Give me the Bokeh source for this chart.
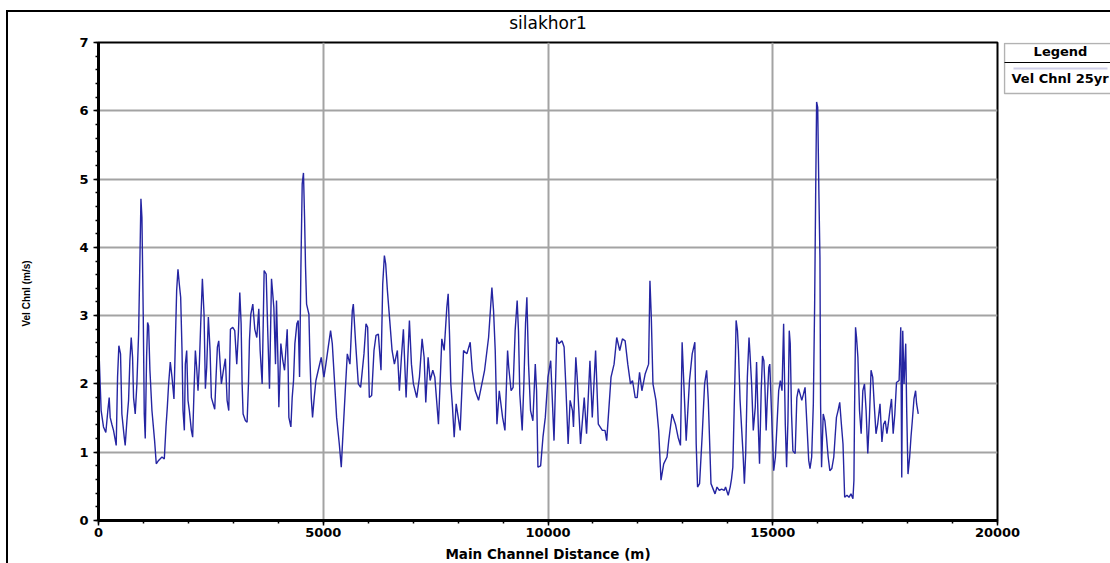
import math
from bokeh.plotting import figure
from bokeh.layouts import row, column
from bokeh.models import Range1d, FixedTicker, Label, BoxAnnotation
from bokeh.embed import file_html
from bokeh.resources import INLINE

title_text = "silakhor1"
x_label = "Main Channel Distance (m)"
y_label = "Vel Chnl (m/s)"
series_name = "Vel Chnl 25yr"
legend_title = "Legend"
x_ticks = [0, 5000, 10000, 15000, 20000]
y_ticks = [0, 1, 2, 3, 4, 5, 6, 7]

dist = [
    0, 59, 111, 163, 208, 238, 260, 297, 334, 394, 424, 453, 490, 520, 572, 594, 632, 669, 698, 728,
    758, 780, 817, 854, 892, 921, 944, 966, 996, 1018, 1040, 1070, 1092, 1115, 1144, 1189, 1248, 1285, 1337, 1412,
    1464, 1501, 1531, 1560, 1597, 1635, 1679, 1709, 1739, 1768, 1798, 1828, 1858, 1880, 1910, 1932, 1962, 1991, 2021, 2066,
    2095, 2125, 2155, 2184, 2214, 2244, 2274, 2311, 2348, 2378, 2407, 2444, 2482, 2511, 2586, 2615, 2645, 2675, 2734, 2779,
    2823, 2861, 2898, 2935, 2987, 3031, 3076, 3113, 3143, 3173, 3195, 3217, 3269, 3306, 3336, 3358, 3388, 3433, 3477, 3522,
    3566, 3596, 3641, 3685, 3730, 3767, 3804, 3849, 3901, 3938, 3960, 3997, 4012, 4057, 4101, 4139, 4198, 4220, 4235, 4280,
    4309, 4339, 4369, 4413, 4443, 4473, 4503, 4532, 4560, 4584, 4606, 4629, 4681, 4703, 4733, 4762, 4799, 4837, 4889, 4955,
    5015, 5059, 5111, 5163, 5201, 5245, 5297, 5357, 5401, 5431, 5490, 5535, 5594, 5646, 5669, 5721, 5780, 5832, 5906, 5951,
    5988, 6025, 6077, 6129, 6174, 6226, 6285, 6323, 6360, 6389, 6427, 6479, 6531, 6583, 6649, 6694, 6739, 6783, 6843, 6917,
    6962, 7006, 7080, 7140, 7199, 7244, 7281, 7333, 7378, 7437, 7482, 7563, 7638, 7690, 7749, 7779, 7809, 7838, 7875, 7913,
    7957, 8046, 8121, 8195, 8269, 8314, 8381, 8455, 8529, 8589, 8678, 8752, 8789, 8826, 8864, 8916, 8990, 9042, 9101, 9127,
    9179, 9224, 9269, 9314, 9343, 9373, 9426, 9463, 9500, 9530, 9567, 9612, 9664, 9717, 9746, 9776, 9836, 9888, 9940, 10000,
    10060, 10134, 10194, 10239, 10313, 10358, 10395, 10448, 10492, 10545, 10567, 10619, 10649, 10724, 10806, 10858, 10933, 10985, 11059, 11119,
    11209, 11268, 11306, 11402, 11470, 11529, 11596, 11656, 11716, 11775, 11835, 11880, 11940, 11984, 12037, 12089, 12163, 12238, 12268, 12298,
    12335, 12402, 12462, 12514, 12574, 12648, 12686, 12760, 12835, 12894, 12947, 12984, 13074, 13148, 13208, 13267, 13297, 13327, 13372, 13432,
    13484, 13529, 13566, 13626, 13716, 13760, 13811, 13862, 13921, 13950, 14009, 14053, 14083, 14112, 14141, 14171, 14185, 14215, 14237, 14273,
    14310, 14339, 14369, 14398, 14435, 14472, 14494, 14530, 14567, 14611, 14640, 14677, 14706, 14743, 14772, 14802, 14824, 14853, 14875, 14912,
    14934, 14971, 15022, 15059, 15095, 15132, 15169, 15206, 15242, 15279, 15308, 15338, 15367, 15389, 15418, 15448, 15499, 15536, 15573, 15609,
    15646, 15683, 15719, 15756, 15800, 15829, 15866, 15903, 15932, 15954, 15976, 16000, 16028, 16050, 16064, 16086, 16123, 16160, 16196, 16233,
    16270, 16314, 16358, 16387, 16417, 16453, 16490, 16527, 16563, 16600, 16652, 16696, 16740, 16784, 16806, 16820, 16842, 16864, 16894, 16930,
    16967, 17004, 17041, 17077, 17114, 17151, 17187, 17224, 17261, 17297, 17334, 17386, 17429, 17466, 17503, 17540, 17569, 17606, 17642, 17679,
    17716, 17753, 17811, 17848, 17870, 17892, 17921, 17958, 17980, 18009, 18046, 18075, 18105, 18142, 18178, 18200, 18237,
]

vel = [
    2.68, 1.61, 1.37, 1.29, 1.61, 1.80, 1.51, 1.41, 1.32, 1.10, 2.10, 2.56, 2.44, 1.56, 1.22, 1.10, 1.46, 1.76, 2.34, 2.68,
    2.39, 1.80, 1.56, 2.00, 2.73, 3.80, 4.71, 4.44, 2.98, 1.56, 1.20, 2.39, 2.90, 2.85, 2.20, 1.61, 1.17, 0.83, 0.88, 0.93,
    0.90, 1.37, 1.66, 2.00, 2.32, 2.10, 1.78, 2.59, 3.37, 3.68, 3.46, 3.27, 2.49, 1.61, 1.32, 2.29, 2.49, 1.76, 1.61, 1.32,
    1.22, 1.90, 2.49, 2.24, 1.90, 2.29, 2.88, 3.54, 3.02, 1.93, 2.24, 2.98, 2.49, 1.80, 1.63, 2.10, 2.54, 2.63, 2.00, 2.20,
    2.37, 1.76, 1.61, 2.80, 2.83, 2.78, 2.29, 2.76, 3.34, 2.88, 2.00, 1.56, 1.46, 1.44, 2.00, 2.63, 3.02, 3.17, 2.80, 2.68,
    3.10, 2.49, 2.00, 3.66, 3.61, 2.73, 1.93, 3.54, 3.12, 2.29, 3.22, 2.20, 1.66, 2.59, 2.34, 2.20, 2.80, 2.20, 1.51, 1.37,
    1.80, 2.05, 2.59, 2.88, 2.93, 2.10, 3.71, 4.93, 5.09, 4.44, 3.71, 3.17, 3.02, 2.39, 1.80, 1.51, 1.80, 2.05, 2.20, 2.39,
    2.10, 2.29, 2.54, 2.78, 2.59, 2.10, 1.51, 1.12, 0.78, 1.17, 1.90, 2.44, 2.29, 3.07, 3.17, 2.59, 2.00, 1.95, 2.44, 2.88,
    2.83, 1.80, 1.83, 2.49, 2.71, 2.73, 2.20, 3.46, 3.88, 3.76, 3.37, 2.93, 2.49, 2.29, 2.49, 1.90, 2.39, 2.80, 1.80, 2.93,
    2.29, 2.00, 1.80, 2.10, 2.66, 2.39, 1.73, 2.39, 2.05, 2.20, 2.10, 1.41, 2.66, 2.49, 3.12, 3.32, 2.73, 2.00, 1.66, 1.22,
    1.71, 1.32, 2.49, 2.44, 2.61, 2.20, 1.90, 1.76, 2.00, 2.20, 2.68, 3.41, 3.07, 2.49, 1.41, 1.90, 1.51, 1.32, 2.49, 2.24,
    1.90, 1.95, 2.78, 3.22, 2.78, 1.85, 1.32, 2.00, 2.88, 3.27, 2.29, 1.61, 1.46, 2.29, 1.90, 0.78, 0.80, 1.22, 1.51, 2.10,
    2.34, 1.17, 2.68, 2.59, 2.63, 2.54, 2.00, 1.12, 1.76, 1.61, 1.37, 2.39, 2.10, 1.12, 1.80, 1.27, 2.34, 1.51, 2.49, 1.41,
    1.32, 1.32, 1.17, 2.10, 2.29, 2.68, 2.49, 2.66, 2.63, 2.29, 2.00, 2.05, 1.80, 1.80, 2.17, 1.90, 2.15, 2.29, 3.51, 2.98,
    2.00, 1.76, 1.32, 0.59, 0.83, 0.93, 1.17, 1.56, 1.41, 1.22, 1.10, 2.61, 1.17, 2.05, 2.44, 2.61, 1.12, 0.49, 0.54, 1.27,
    2.00, 2.20, 1.76, 0.54, 0.39, 0.49, 0.44, 0.46, 0.44, 0.49, 0.37, 0.49, 0.61, 0.78, 1.61, 2.44, 2.93, 2.78, 2.49, 1.76,
    1.32, 0.98, 0.54, 0.98, 2.10, 2.68, 2.44, 2.00, 1.32, 1.66, 2.32, 1.41, 0.83, 1.90, 2.41, 2.34, 2.00, 1.32, 1.71, 2.24,
    2.29, 1.61, 0.73, 0.93, 1.41, 1.90, 2.05, 1.90, 2.88, 1.41, 0.78, 1.46, 2.78, 2.59, 1.56, 1.02, 0.98, 1.80, 1.93, 1.85,
    1.76, 1.85, 1.95, 1.46, 0.88, 0.76, 0.93, 1.71, 3.17, 4.73, 6.13, 6.05, 4.73, 3.85, 1.71, 0.78, 1.56, 1.46, 1.22, 0.93,
    0.73, 0.76, 0.93, 1.22, 1.51, 1.61, 1.73, 1.41, 1.12, 0.34, 0.37, 0.34, 0.39, 0.32, 0.59, 1.61, 2.83, 2.68, 2.39, 1.61,
    1.27, 1.90, 2.00, 1.61, 0.98, 1.51, 2.20, 2.10, 1.66, 1.27, 1.41, 1.71, 1.15, 1.41, 1.46, 1.27, 1.41, 1.61, 1.78, 1.27,
    1.56, 2.02, 2.05, 2.83, 0.63, 2.78, 2.00, 2.59, 1.61, 0.68, 0.93, 1.22, 1.46, 1.78, 1.90, 1.71, 1.56,
]

# ---- page geometry (pixels) ----
PAGE_W, PAGE_H = 1110, 563
X0, Y0 = 8, 12                      # inside the outer border
FL, FR, FT, FB = 98, 997, 42, 520   # plot frame edges on the page
YLAB_R = 48                         # right edge of the y-label strip
TITLE_B = 34                        # bottom of the title strip
ROW_B = 543                         # bottom of the plot row
LEG_X = 1003                        # legend column left edge

INNER_W = PAGE_W - X0
FONT = "DejaVu Sans"
LINE_COLOR = "#2525a2"


def strip(width, height, x0, y_top, y_bottom):
    # helper figure whose data units are page pixels (x from x0, y from y_top to y_bottom)
    f = figure(width=width, height=height, output_backend="svg", toolbar_location=None,
               x_range=Range1d(x0, x0 + width), y_range=Range1d(y_bottom, y_top),
               x_axis_location=None, y_axis_location=None, title_location=None,
               min_border_left=0, min_border_right=0, min_border_top=0, min_border_bottom=0)
    f.grid.visible = False
    f.outline_line_color = None
    f.background_fill_color = None
    f.border_fill_color = None
    return f


# ---- title strip ----
title_fig = strip(INNER_W, TITLE_B - Y0, X0, Y0, TITLE_B)
title_fig.add_layout(Label(x=(FL + FR) / 2, y=22, text=title_text, text_align="center",
                           text_baseline="middle", text_font=FONT, text_font_size="17px",
                           text_color="black"))

# ---- y label strip (its frame is aligned with the plot frame by the row) ----
ylab_fig = strip(YLAB_R - X0, ROW_B - TITLE_B, X0, FT, FB)
ylab_fig.add_layout(Label(x=26, y=293, text=y_label, angle=math.pi / 2,
                          text_align="center", text_baseline="middle", text_font="Liberation Sans",
                          text_font_style="bold", text_font_size="10px", text_color="black"))

# ---- main plot ----
p = figure(width=PAGE_W - YLAB_R, height=ROW_B - TITLE_B, output_backend="svg", toolbar_location=None,
           title_location=None,
           x_range=Range1d(x_ticks[0], x_ticks[-1]), y_range=Range1d(y_ticks[0], y_ticks[-1]),
           min_border_left=FL - YLAB_R, min_border_right=PAGE_W - FR,
           min_border_top=FT - TITLE_B, min_border_bottom=ROW_B - FB)
p.background_fill_color = "white"
p.border_fill_color = "white"
p.outline_line_color = "black"
p.outline_line_width = 2

p.line(dist, vel, line_color=LINE_COLOR, line_width=1.4)

p.xgrid.ticker = FixedTicker(ticks=x_ticks[1:-1])
p.ygrid.ticker = FixedTicker(ticks=y_ticks[1:-1])
for g in (p.xgrid, p.ygrid):
    g.grid_line_color = "#a3a3a3"
    g.grid_line_width = 2

p.xaxis.ticker = FixedTicker(ticks=x_ticks, minor_ticks=list(range(0, 20001, 1000)))
p.yaxis.ticker = FixedTicker(ticks=y_ticks, minor_ticks=[i / 5 for i in range(0, 36)])
for ax in (p.xaxis, p.yaxis):
    ax.axis_line_color = "black"
    ax.axis_line_width = 3
    ax.major_tick_line_color = "black"
    ax.major_tick_line_width = 1.5
    ax.minor_tick_line_color = "black"
    ax.minor_tick_line_width = 1.5
    ax.major_tick_in = 0
    ax.major_tick_out = 5
    ax.minor_tick_in = 0
    ax.minor_tick_out = 3
    ax.major_label_text_font = FONT
    ax.major_label_text_font_style = "bold"
    ax.major_label_text_font_size = "13px"
    ax.major_label_text_color = "black"
p.xaxis.major_label_standoff = 2
p.yaxis.major_label_standoff = 5

# ---- legend column (transparent, overlaps the plot's right border) ----
leg = strip(PAGE_W - LEG_X, ROW_B - TITLE_B, LEG_X, FT, FB)
leg.styles = {"margin-left": f"-{PAGE_W - LEG_X}px"}

leg.add_layout(BoxAnnotation(left=1004, right=1140, top=43, bottom=93,
                             fill_color="white", fill_alpha=1, line_color="black", line_width=1.5))
leg.add_layout(BoxAnnotation(left=1004, right=1140, top=61.5, bottom=62.5,
                             fill_color="black", fill_alpha=1, line_alpha=0))
leg.add_layout(BoxAnnotation(left=1013, right=1107, top=68, bottom=68,
                             fill_alpha=0, line_color="#6565b5", line_width=2))
leg.add_layout(Label(x=1060, y=51, text=legend_title, text_align="center", text_baseline="middle",
                     text_font=FONT, text_font_style="bold", text_font_size="13px", text_color="black"))
leg.add_layout(Label(x=1011, y=78, text=series_name, text_align="left", text_baseline="middle",
                     text_font=FONT, text_font_style="bold", text_font_size="13px", text_color="black"))

# ---- x label strip ----
xlab_fig = strip(INNER_W, PAGE_H - ROW_B, X0, ROW_B, PAGE_H)
xlab_fig.add_layout(Label(x=(FL + FR) / 2, y=553, text=x_label, text_align="center",
                          text_baseline="middle", text_font=FONT, text_font_style="bold",
                          text_font_size="13.5px", text_color="black"))

layout = column(title_fig, row(ylab_fig, p, leg), xlab_fig,
                styles={"margin-left": f"{X0 - 2}px", "margin-top": f"{Y0 - 2}px",
                        "border-left": "2px solid black", "border-top": "2px solid black"})

open("out.html", "w").write(file_html(layout, INLINE))
